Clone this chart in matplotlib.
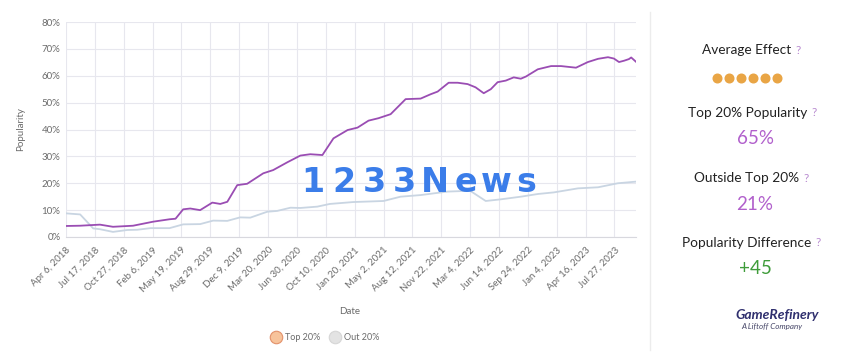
import matplotlib
matplotlib.use("Agg")
import matplotlib.pyplot as plt
from matplotlib.lines import Line2D
import pandas as pd

plt.rcParams['font.family'] = ['Lato', 'DejaVu Sans']

# ---------------- data ----------------
top_dates = ["2018-04-06", "2018-05-26", "2018-08-04", "2018-09-19", "2018-11-29",
             "2019-02-08", "2019-04-07", "2019-04-28", "2019-05-25", "2019-06-19",
             "2019-07-24", "2019-09-05", "2019-10-03", "2019-10-28", "2019-12-02",
             "2020-01-06", "2020-03-03", "2020-04-07", "2020-05-27", "2020-07-12",
             "2020-08-16", "2020-09-28", "2020-11-06", "2020-12-26", "2021-01-30",
             "2021-03-10", "2021-04-14", "2021-05-27", "2021-07-19", "2021-09-10",
             "2021-10-15", "2021-11-09", "2021-12-18", "2022-01-19", "2022-02-23",
             "2022-03-23", "2022-04-21", "2022-05-16", "2022-06-09", "2022-07-08",
             "2022-08-05", "2022-08-30", "2022-09-17", "2022-10-29", "2022-12-15",
             "2023-01-19", "2023-03-13", "2023-04-24", "2023-05-30", "2023-07-04",
             "2023-07-25", "2023-08-12", "2023-08-30", "2023-09-16", "2023-09-24",
             "2023-10-11"]
top_values = [4.1, 4.2, 4.6, 3.8, 4.2,
              5.7, 6.6, 6.8, 10.3, 10.6,
              10.0, 12.8, 12.3, 13.1, 19.3,
              19.8, 23.7, 24.9, 27.8, 30.3,
              30.8, 30.5, 36.7, 39.8, 40.7,
              43.3, 44.2, 45.7, 51.3, 51.5,
              53.1, 54.1, 57.4, 57.4, 56.9,
              55.7, 53.5, 55.0, 57.6, 58.2,
              59.4, 58.9, 59.7, 62.4, 63.6,
              63.6, 63.0, 65.1, 66.3, 66.9,
              66.4, 65.1, 65.6, 66.2, 66.8,
              65.2]

out_dates = ["2018-04-06", "2018-05-26", "2018-07-11", "2018-08-04", "2018-09-19",
             "2018-11-08", "2018-12-14", "2019-01-30", "2019-04-07", "2019-05-25",
             "2019-07-24", "2019-09-08", "2019-10-28", "2019-12-12", "2020-01-17",
             "2020-03-17", "2020-04-21", "2020-06-07", "2020-07-12", "2020-09-10",
             "2020-10-24", "2021-01-14", "2021-05-02", "2021-07-01", "2021-09-10",
             "2021-12-14", "2022-03-04", "2022-04-28", "2022-06-19", "2022-08-30",
             "2022-10-29", "2022-12-25", "2023-03-20", "2023-05-30", "2023-08-08",
             "2023-10-11"]
out_values = [8.8, 8.4, 3.2, 2.9, 1.9,
              2.6, 2.7, 3.3, 3.3, 4.7,
              4.8, 6.1, 6.0, 7.3, 7.2,
              9.4, 9.7, 10.9, 10.8, 11.3,
              12.3, 13.0, 13.4, 15.0, 15.6,
              16.9, 17.2, 13.4, 14.0, 15.0,
              16.0, 16.6, 18.1, 18.5, 20.0,
              20.6]

tick_labels = ["Apr 6, 2018", "Jul 17, 2018", "Oct 27, 2018", "Feb 6, 2019",
               "May 19, 2019", "Aug 29, 2019", "Dec 9, 2019", "Mar 20, 2020",
               "Jun 30, 2020", "Oct 10, 2020", "Jan 20, 2021", "May 2, 2021",
               "Aug 12, 2021", "Nov 22, 2021", "Mar 4, 2022", "Jun 14, 2022",
               "Sep 24, 2022", "Jan 4, 2023", "Apr 16, 2023", "Jul 27, 2023"]

series_names = ["Top 20%", "Out 20%"]
panel_titles = ["Average Effect", "Top 20% Popularity", "Outside Top 20%", "Popularity Difference"]
panel_values = ["65%", "21%", "+45"]
effect_dots = 6

# ---------------- colours ----------------
top_color = "#9a4db3"
out_color = "#c9d5e2"
grid_color = "#e7e7ee"
tick_color = "#6b6b6b"

fig = plt.figure(figsize=(8.41, 3.60), dpi=100)
fig.patch.set_facecolor("white")

ax = fig.add_axes([66/841, 1-237/360, (636-66)/841, (237-22)/360])

td = pd.to_datetime(top_dates)
od = pd.to_datetime(out_dates)
ax.plot(od, out_values, color=out_color, lw=1.3, zorder=3)
ax.plot(td, top_values, color=top_color, lw=1.3, zorder=4)

ticks = pd.to_datetime(tick_labels, format="%b %d, %Y")
ax.set_xticks(ticks)
ax.set_xticklabels(tick_labels, rotation=45, ha="right", rotation_mode="anchor",
                   fontsize=7, color=tick_color)
ax.set_xlim(pd.Timestamp("2018-04-06"), pd.Timestamp("2023-10-11"))
ax.set_ylim(0, 80)
ax.set_yticks(range(0, 81, 10))
ax.set_yticklabels([f"{v}%" for v in range(0, 81, 10)], fontsize=7, color=tick_color)
ax.tick_params(axis="both", length=0, pad=4)
ax.tick_params(axis="x", pad=6)
ax.grid(True, color=grid_color, lw=0.8)
ax.set_axisbelow(True)
for s in ["top", "right", "left"]:
    ax.spines[s].set_visible(False)
ax.spines["bottom"].set_color("#d8d8de")
ax.spines["bottom"].set_linewidth(0.8)

ax.set_ylabel("Popularity", fontsize=7, color=tick_color, labelpad=12)
fig.text(350/841, 1-312/360, "Date", fontsize=7, color=tick_color, ha="center", va="center")

# legend
leg_y = 1 - 337/360
fig.add_artist(Line2D([276/841], [leg_y], marker="o", markersize=9, color="none",
                      markerfacecolor="#f7c39b", markeredgecolor="#e3916a", markeredgewidth=0.8))
fig.text(285/841, leg_y, series_names[0], fontsize=6.5, color=tick_color, va="center", ha="left")
fig.add_artist(Line2D([335/841], [leg_y], marker="o", markersize=9, color="none",
                      markerfacecolor="#e3e3e3", markeredgecolor="#d6d6d6", markeredgewidth=0.8))
fig.text(344/841, leg_y, series_names[1], fontsize=6.5, color=tick_color, va="center", ha="left")

# watermark
wm = "1233News"
for i, ch in enumerate(wm):
    fig.text((313 + i * 30.5)/841, 1 - 182/360, ch, fontsize=24, fontweight="bold",
             color="#3b7de9", ha="center", va="center", family=["DejaVu Sans"], zorder=10)

# divider
fig.add_artist(Line2D([650/841, 650/841], [1-12/360, 1-350/360], color="#ececec", lw=1))

# right panel
title_y = [50, 113, 178, 243]
title_cx = [747, 748, 747, 747]
for t, yy, cxp in zip(panel_titles, title_y, title_cx):
    tt = fig.text(cxp/841, 1 - yy/360, t, fontsize=9.8, color="#222222", ha="center", va="center")
    fig.text(0, 0, "?", fontsize=8.5, color="#b88ad0", ha="left", va="center",
             transform=matplotlib.transforms.offset_copy(
                 matplotlib.transforms.blended_transform_factory(fig.transFigure, fig.transFigure),
                 fig=fig, x=0, y=0, units="points"))
    tt._q = True

fig.canvas.draw()
renderer = fig.canvas.get_renderer()
# place question marks right after each title
qs = [t for t in fig.texts if t.get_text() == "?"]
ts = [t for t in fig.texts if t.get_text() in panel_titles]
for q, t in zip(qs, ts):
    bb = t.get_window_extent(renderer)
    x1 = (bb.x1 + 4) / fig.bbox.width
    yc = (bb.y0 + bb.y1) / 2 / fig.bbox.height
    q.set_transform(fig.transFigure)
    q.set_position((x1, yc))

cx = 755/841
val_y = [138, 204, 268]
val_colors = ["#b160cc", "#b160cc", "#3f9c3a"]
for v, yy, c in zip(panel_values, val_y, val_colors):
    fig.text(cx, 1 - yy/360, v, fontsize=13.5, color=c, ha="center", va="center")

for i in range(effect_dots):
    fig.add_artist(Line2D([(717 + i * 12)/841], [1 - 78/360], marker="o", markersize=6.2,
                          color="none", markerfacecolor="#e9a545", markeredgecolor="#e9a545"))

fig.text(777/841, 1 - 315/360, "GameRefinery", fontsize=10, fontweight="bold", style="italic",
         color="#2f2f6e", ha="center", va="center")
fig.text(772/841, 1 - 327/360, "A Liftoff Company", fontsize=5.8, style="italic",
         color="#444466", ha="center", va="center")

fig.savefig("out.png", dpi=100, facecolor="white")
